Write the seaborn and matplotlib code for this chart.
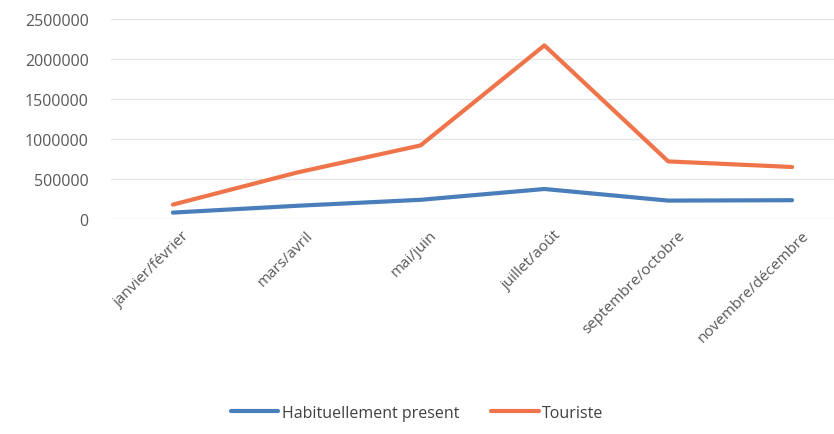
import matplotlib
matplotlib.use("Agg")
import matplotlib.pyplot as plt
import matplotlib.transforms as mtransforms
import seaborn as sns
import pandas as pd

periods = ["janvier/février", "mars/avril", "mai/juin", "juillet/août",
           "septembre/octobre", "novembre/décembre"]
habituel = [80000, 165000, 240000, 375000, 230000, 235000]
touriste = [180000, 580000, 920000, 2170000, 720000, 650000]
series = ["Habituellement present", "Touriste"]
y_ticks = [0, 500000, 1000000, 1500000, 2000000, 2500000]

df = pd.DataFrame({
    "period": periods * 2,
    "value": habituel + touriste,
    "serie": [series[0]] * len(periods) + [series[1]] * len(periods),
})

sns.set_theme(style="white")
plt.rcParams["font.family"] = ["Open Sans", "DejaVu Sans"]

fig = plt.figure(figsize=(8.34, 4.35), dpi=100)
# plot area runs a bit past the right edge, as in the cropped reference
ax = fig.add_axes([111 / 834, 1 - 220 / 435, 743 / 834, 200 / 435])

sns.lineplot(data=df, x="period", y="value", hue="serie",
             palette=["#4a7ebb", "#f0744a"], linewidth=3.0, sort=False,
             ax=ax, legend=True)

ax.set_xlim(-0.5, len(periods) - 0.5)
ax.set_ylim(0, 2500000)
ax.set_yticks(y_ticks)
ax.set_yticklabels([str(v) for v in y_ticks])
ax.yaxis.grid(True, color="#e6e6e6", linewidth=1)
ax.set_axisbelow(True)
for s in ax.spines.values():
    s.set_visible(False)
ax.set_xlabel("")
ax.set_ylabel("")
ax.tick_params(axis="y", labelsize=11.5, colors="#595959", length=0, pad=16)
ax.tick_params(axis="x", labelsize=11, colors="#595959", length=0, pad=6)
shift = mtransforms.ScaledTranslation(9 / 100, 0, fig.dpi_scale_trans)
for lbl in ax.get_xticklabels():
    lbl.set_rotation(45)
    lbl.set_ha("right")
    lbl.set_rotation_mode("anchor")
    lbl.set_transform(lbl.get_transform() + shift)

handles, labels = ax.get_legend_handles_labels()
ax.legend(handles, labels, loc="center", bbox_to_anchor=(0.5 * 834 / 743 - 111 / 743, -0.97),
          bbox_transform=ax.transAxes, ncol=2, frameon=False, fontsize=11.5,
          handlelength=3.0, handletextpad=0.2, columnspacing=2.0,
          labelcolor="#404040")

fig.savefig("out.png", dpi=100, facecolor="white")
